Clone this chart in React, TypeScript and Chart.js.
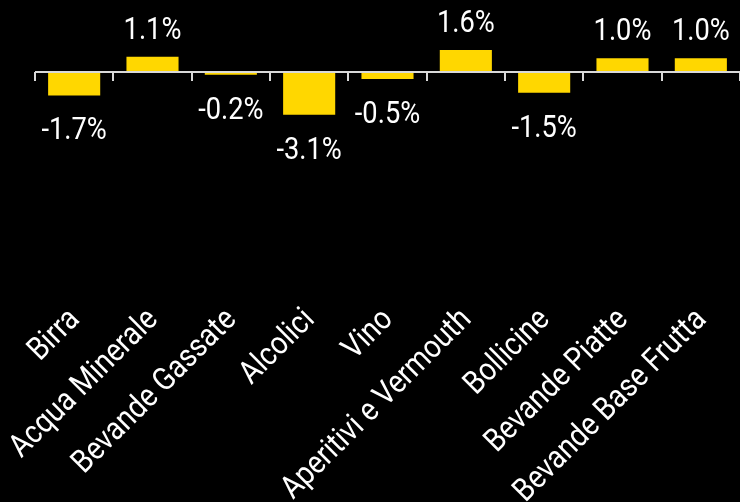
import React, { useEffect, useRef } from "react";
import { Chart, registerables } from "chart.js";

Chart.register(...registerables);

const categories = [
  "Birra",
  "Acqua Minerale",
  "Bevande Gassate",
  "Alcolici",
  "Vino",
  "Aperitivi e Vermouth",
  "Bollicine",
  "Bevande Piatte",
  "Bevande Base Frutta",
];
const values = [-1.7, 1.1, -0.2, -3.1, -0.5, 1.6, -1.5, 1.0, 1.0];

const FONT = "Roboto, 'Noto Sans', sans-serif";
const BAR = "#FFD700";
const SQUEEZE = 0.88;

const zeroAxisAndLabels = {
  id: "zeroAxisAndLabels",
  afterDatasetsDraw(chart: any) {
    const { ctx, chartArea, scales } = chart;
    const x = scales.x;
    const y = scales.y;
    const y0 = y.getPixelForValue(0);
    ctx.save();
    // zero line
    ctx.strokeStyle = "#d9d9d9";
    ctx.lineWidth = 2;
    ctx.beginPath();
    ctx.moveTo(chartArea.left, y0);
    ctx.lineTo(chartArea.right, y0);
    ctx.stroke();
    // tick marks at category boundaries
    const n = categories.length;
    const step = n > 1 ? x.getPixelForValue(1) - x.getPixelForValue(0) : chartArea.width;
    for (let i = 0; i <= n; i++) {
      const px = Math.round(x.getPixelForValue(0) - step / 2 + i * step);
      ctx.beginPath();
      ctx.moveTo(px, y0);
      ctx.lineTo(px, y0 + 9);
      ctx.stroke();
    }
    // value labels
    ctx.fillStyle = "#ffffff";
    ctx.font = `31px ${FONT}`;
    ctx.textAlign = "center";
    ctx.textBaseline = "alphabetic";
    const meta = chart.getDatasetMeta(0);
    meta.data.forEach((bar: any, i: number) => {
      const v = values[i];
      const label = `${v.toFixed(1)}%`;
      const ty = v >= 0 ? bar.y - 18 : bar.y + 44;
      ctx.save();
      ctx.translate(bar.x, ty);
      ctx.scale(SQUEEZE, 1);
      ctx.fillText(label, 0, 0);
      ctx.restore();
    });
    // category labels, rotated 45 degrees
    ctx.font = `32px ${FONT}`;
    ctx.textAlign = "right";
    ctx.textBaseline = "middle";
    const labelY = chartArea.bottom + 15;
    categories.forEach((cat, i) => {
      const cx = x.getPixelForValue(i);
      ctx.save();
      ctx.translate(cx + 1, labelY);
      ctx.rotate(-Math.PI / 4);
      ctx.scale(SQUEEZE, 1);
      ctx.fillText(cat, 0, 0);
      ctx.restore();
    });
    ctx.restore();
  },
};

export default function App() {
  const ref = useRef<HTMLCanvasElement | null>(null);

  useEffect(() => {
    document.body.style.margin = "0";
    document.body.style.background = "#000";
    const canvas = ref.current;
    if (!canvas) return;
    const chart = new Chart(canvas, {
      type: "bar",
      data: {
        labels: categories,
        datasets: [
          {
            data: values,
            backgroundColor: BAR,
            borderWidth: 0,
            categoryPercentage: 1,
            barPercentage: 0.665,
          },
        ],
      },
      options: {
        animation: false,
        responsive: false,
        maintainAspectRatio: false,
        layout: { padding: { left: 35, right: -1, top: 0, bottom: 202 } },
        plugins: {
          legend: { display: false },
          tooltip: { enabled: false },
        },
        scales: {
          x: { display: false },
          y: {
            display: false,
            min: -16.52,
            max: 5.22,
          },
        },
      },
      plugins: [
        {
          id: "bg",
          beforeDraw(c: any) {
            const g = c.ctx;
            g.save();
            g.fillStyle = "#000";
            g.fillRect(0, 0, c.width, c.height);
            g.restore();
          },
        },
        zeroAxisAndLabels,
      ],
    });
    return () => chart.destroy();
  }, []);

  return (
    <div style={{ width: 740, height: 502, background: "#000" }}>
      <canvas ref={ref} width={740} height={502} style={{ display: "block" }} />
    </div>
  );
}
